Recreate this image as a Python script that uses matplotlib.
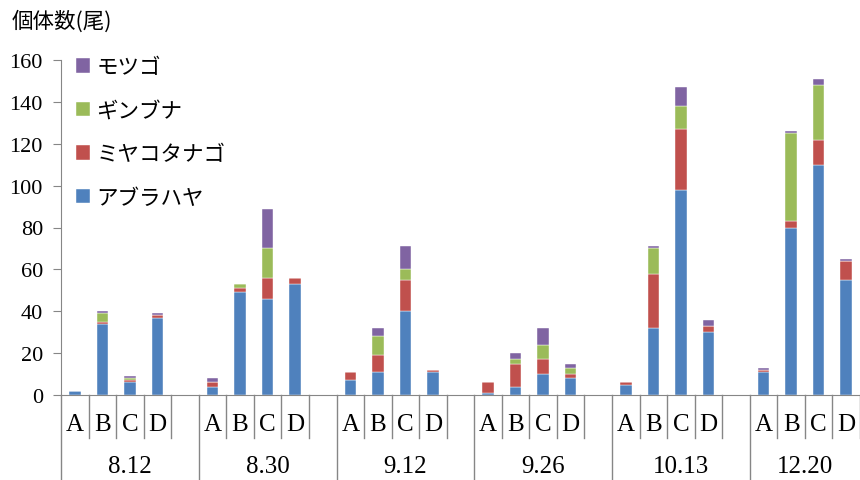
import matplotlib.pyplot as plt
import numpy as np

dates = ['8.12', '8.30', '9.12', '9.26', '10.13', '12.20']
sites = ['A', 'B', 'C', 'D']

# one slot per site, plus an empty slot between dates
slot_labels = []
for d in dates:
    slot_labels += sites + ['']
slot_labels = slot_labels[:-1]

species = ['アブラハヤ', 'ミヤコタナゴ', 'ギンブナ', 'モツゴ']
colors = ['#4F81BD', '#C0504D', '#9BBB59', '#8064A2']

abura = [2, 34, 6, 37, 0, 4, 49, 46, 53, 0, 7, 11, 40, 11, 0, 1, 4, 10, 8, 0,
         5, 32, 98, 30, 0, 11, 80, 110, 55]
miyako = [0, 1, 1, 1, 0, 2, 2, 10, 3, 0, 4, 8, 15, 1, 0, 5, 11, 7, 2, 0,
          1, 26, 29, 3, 0, 1, 3, 12, 9]
ginbuna = [0, 4, 1, 0, 0, 0, 2, 14, 0, 0, 0, 9, 5, 0, 0, 0, 2, 7, 3, 0,
           0, 12, 11, 0, 0, 0, 42, 26, 0]
motsugo = [0, 1, 1, 1, 0, 2, 0, 19, 0, 0, 0, 4, 11, 0, 0, 0, 3, 8, 2, 0,
           0, 1, 9, 3, 0, 1, 1, 3, 1]

serif = 'Liberation Serif'
jp = ['Noto Sans CJK JP', 'DejaVu Sans']
gray = '#868686'

fig = plt.figure(figsize=(8.6, 4.81), dpi=100)
ax = fig.add_axes([61 / 860, 1 - 396 / 481, 1 - 61 / 860, 335 / 481])

x = np.arange(len(slot_labels))
bottom = np.zeros(len(x))
bars = []
for vals, name, c in zip([abura, miyako, ginbuna, motsugo], species, colors):
    b = ax.bar(x, vals, 0.42, bottom=bottom, color=c, label=name,
               edgecolor='white', linewidth=0.3)
    bars.append(b)
    bottom += np.array(vals)

ax.set_xlim(-0.5, len(x) - 0.5)
ax.set_ylim(0, 160)
ax.set_yticks(np.arange(0, 161, 20))
for lab in ax.get_yticklabels():
    lab.set_fontfamily(serif)
    lab.set_fontsize(16)
ax.tick_params(axis='y', length=6, color=gray, pad=7)

ax.set_xticks(x)
ax.set_xticklabels(slot_labels, fontfamily=serif, fontsize=18)
ax.tick_params(axis='x', length=0, pad=13)

for s in ['top', 'right']:
    ax.spines[s].set_visible(False)
ax.spines['left'].set_color(gray)
ax.spines['bottom'].set_color(gray)

# separators below the axis
trans = ax.get_xaxis_transform()
for i in range(len(x) + 1):
    xb = i - 0.5
    if i % 5 == 0:
        ax.plot([xb, xb], [0, -0.26], color=gray, lw=1, transform=trans, clip_on=False)
    else:
        ax.plot([xb, xb], [0, -0.128], color=gray, lw=1, transform=trans, clip_on=False)

for k, d in enumerate(dates):
    cx = k * 5 + 1.5 if k == len(dates) - 1 else k * 5 + 2
    ax.text(cx, -0.212, d, transform=trans, ha='center', va='center',
            fontfamily=serif, fontsize=18)

fig.text(12 / 860, 1 - 22 / 481, '個体数(尾)', fontfamily=jp, fontsize=15.5,
         ha='left', va='center')

ax.legend(bars[::-1], species[::-1], loc='upper left',
          bbox_to_anchor=(76 / 860, 1 - 57 / 481), bbox_transform=fig.transFigure,
          frameon=False, prop={'family': jp, 'size': 15.5},
          handlelength=0.65, handleheight=0.65, handletextpad=0.3,
          labelspacing=1.0, borderpad=0, borderaxespad=0)

fig.savefig('out.png', dpi=100)
